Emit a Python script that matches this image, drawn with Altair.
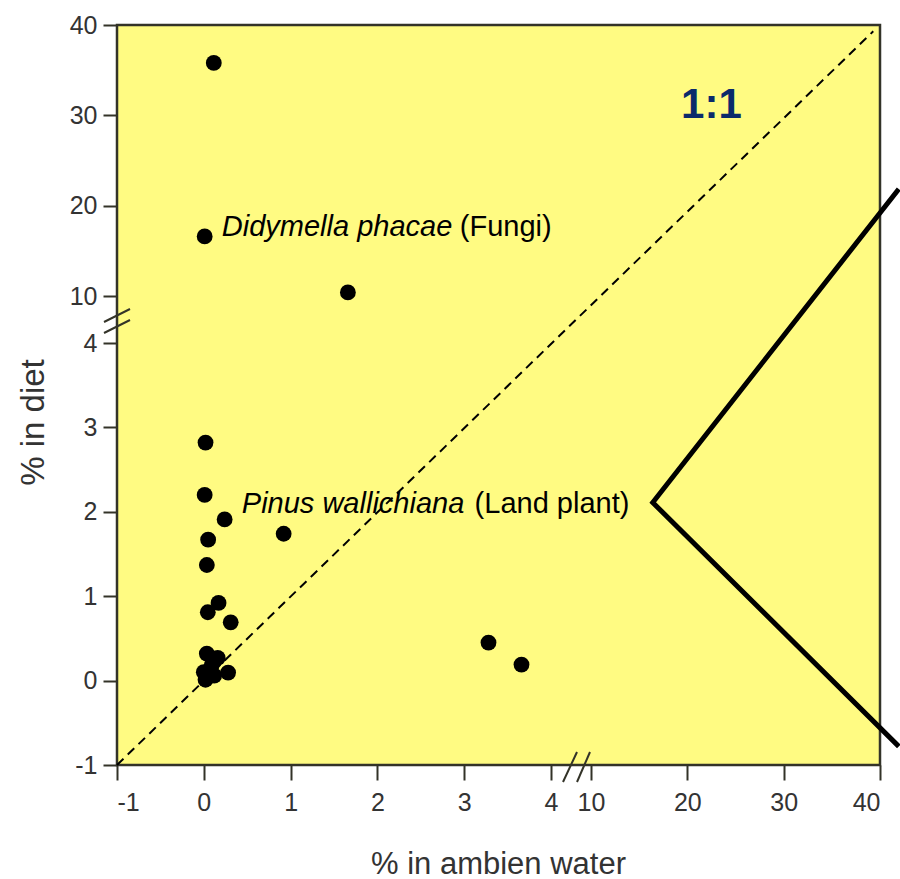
import altair as alt
import pandas as pd

# ---- data ----
water = [0.115, 0.01, 1.66, 0.02, 0.01, 0.24, 0.92, 0.05, 0.035, 0.17, 0.046,
         0.31, 3.28, 3.66, 0.035, 0.16, 0.09, 0.28, 0.0, 0.02, 0.12]
diet = [35.8, 16.6, 10.4, 2.82, 2.20, 1.91, 1.74, 1.67, 1.37, 0.92, 0.81,
        0.69, 0.45, 0.19, 0.32, 0.27, 0.18, 0.095, 0.10, 0.01, 0.06]

tick_values = [-1, 0, 1, 2, 3, 4, 10, 20, 30, 40]
break_domain = [-1, 4, 10, 40]

one_to_one = [-1, 39.3]

label_italic = ["Didymella phacae", "Pinus wallichiana"]
label_plain = ["(Fungi)", "(Land plant)"]
label_italic_x = [0.207, 0.438]
label_plain_x = [2.95, 3.12]
label_y = [16.64, 1.99]

ratio_label = ["1:1"]
ratio_x = [22.5]
ratio_y = [29.7]

callout_x = [41.95, 16.41, 41.95]
callout_y = [21.85, 2.11, -0.78]

# ---- layout ----
W, H = 763, 740
FONT = "Liberation Sans"
INK = "#333328"

xs = alt.Scale(domain=break_domain, range=[0, 434, 474, W], zero=False, nice=False)
ys = alt.Scale(domain=break_domain, range=[H, 318, 271, 0], zero=False, nice=False)

x_axis = alt.Axis(values=tick_values, labelExpr="'' + datum.value", title="% in ambien water",
                  grid=False, domain=False, tickSize=15, tickWidth=2, tickColor=INK,
                  labelFont=FONT, labelFontSize=25, labelColor="#333333", labelPadding=10,
                  titleFont=FONT, titleFontSize=31, titleFontWeight="normal", titleColor="#333333",
                  titleX=381, titleY=108, titleBaseline="alphabetic", titleAlign="center")
y_axis = alt.Axis(values=tick_values, labelExpr="'' + datum.value", title="% in diet",
                  grid=False, domain=False, tickSize=14, tickWidth=2, tickColor=INK,
                  labelFont=FONT, labelFontSize=25, labelColor="#333333", labelPadding=6,
                  titleFont=FONT, titleFontSize=33, titleFontWeight="normal", titleColor="#333333",
                  titleX=-84, titleY=397, titleBaseline="middle", titleAlign="center", titleAngle=270)

pts = pd.DataFrame({"water": water, "diet": diet})
line_df = pd.DataFrame({"water": one_to_one, "diet": one_to_one})
ital_df = pd.DataFrame({"water": label_italic_x, "diet": label_y, "t": label_italic})
plain_df = pd.DataFrame({"water": label_plain_x, "diet": label_y, "t": label_plain})
ratio_df = pd.DataFrame({"water": ratio_x, "diet": ratio_y, "t": ratio_label})
callout_df = pd.DataFrame({"water": callout_x, "diet": callout_y, "i": list(range(len(callout_x)))})

dash = alt.Chart(line_df).mark_line(color="black", strokeWidth=2, strokeDash=[9, 6]).encode(
    x=alt.X("water:Q", scale=xs, axis=x_axis),
    y=alt.Y("diet:Q", scale=ys, axis=y_axis),
)

dots = alt.Chart(pts).mark_circle(size=250, color="black", opacity=1).encode(
    x=alt.X("water:Q", scale=xs), y=alt.Y("diet:Q", scale=ys))

ital = alt.Chart(ital_df).mark_text(align="left", baseline="alphabetic", fontStyle="italic",
                                    font=FONT, fontSize=29, color="black").encode(
    x=alt.X("water:Q", scale=xs), y=alt.Y("diet:Q", scale=ys), text="t:N")

plain = alt.Chart(plain_df).mark_text(align="left", baseline="alphabetic",
                                      font=FONT, fontSize=29, color="black").encode(
    x=alt.X("water:Q", scale=xs), y=alt.Y("diet:Q", scale=ys), text="t:N")

ratio = alt.Chart(ratio_df).mark_text(align="center", baseline="alphabetic", fontWeight="bold",
                                      font=FONT, fontSize=42, color="#0B2A6B").encode(
    x=alt.X("water:Q", scale=xs), y=alt.Y("diet:Q", scale=ys), text="t:N")

callout = alt.Chart(callout_df).mark_line(color="black", strokeWidth=5, clip=False).encode(
    x=alt.X("water:Q", scale=xs), y=alt.Y("diet:Q", scale=ys), order="i:Q")

# axis-break slashes (decoration, pixel positions relative to plot area)
slashes = [(-13, 297, 13, 284), (-13, 308, 13, 295),
           (446, 757, 460, 727), (460, 757, 473, 727)]
one = pd.DataFrame({"k": [0]})
slash_layers = [
    alt.Chart(one).mark_rule(color=INK, strokeWidth=2).encode(
        x=alt.value(a), y=alt.value(b), x2=alt.value(c), y2=alt.value(d))
    for a, b, c, d in slashes
]

chart = alt.layer(dash, dots, ital, plain, ratio, callout, *slash_layers).properties(
    width=W, height=H,
    autosize=alt.AutoSizeParams(type="none"),
    padding={"left": 117, "top": 25, "right": 20, "bottom": 114},
    background="white",
).configure_view(fill="#FFFB82", stroke=INK, strokeWidth=2.5)

chart.save("out.html", embed_options={"renderer": "svg", "actions": False})
